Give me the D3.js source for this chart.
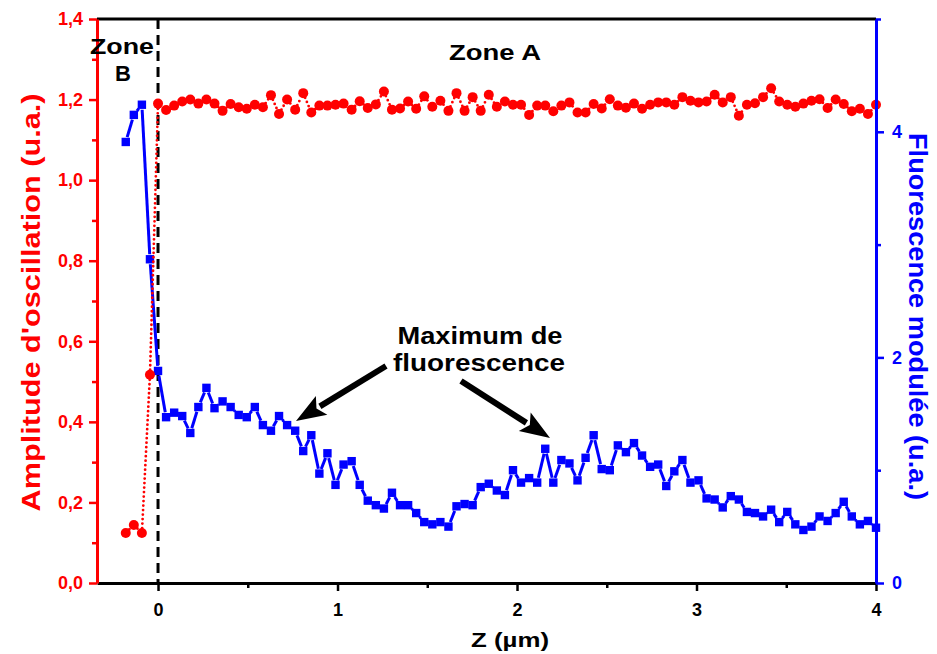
<!DOCTYPE html>
<html>
<head>
<meta charset="utf-8">
<script src="https://cdn.jsdelivr.net/npm/d3@7"></script>
<style>
  html, body { margin: 0; padding: 0; background: #fff; }
  svg { display: block; font-family: "Liberation Sans", Arial, sans-serif; font-weight: bold; }
</style>
</head>
<body>
<svg id="chart" width="937" height="654"></svg>
<script>
// ---- data ----
const zStep = 4 / 89;
const zIndexOffset = 4;
const amplitude = [
  0.124, 0.144, 0.124, 0.517, 1.19,
  1.174, 1.185, 1.195, 1.20, 1.19, 1.20, 1.19, 1.172, 1.189, 1.181, 1.177, 1.187, 1.181, 1.211, 1.164,
  1.20, 1.175, 1.216, 1.168, 1.185, 1.185, 1.187, 1.19, 1.175, 1.196, 1.179, 1.188,
  1.22, 1.175, 1.178, 1.195, 1.177, 1.208, 1.182, 1.197, 1.172, 1.216, 1.172, 1.206, 1.172, 1.212,
  1.182, 1.195, 1.187, 1.187, 1.162, 1.185, 1.185, 1.171, 1.185, 1.193, 1.168, 1.168, 1.189, 1.178,
  1.201, 1.185, 1.180,
  1.19, 1.177, 1.187, 1.193, 1.193, 1.187, 1.206, 1.197, 1.193, 1.195, 1.212, 1.193, 1.206, 1.160,
  1.187, 1.191, 1.206, 1.228, 1.195, 1.187, 1.182, 1.19, 1.197, 1.201, 1.179, 1.20, 1.189, 1.171,
  1.177, 1.164, 1.187
];
const fluorescence = [
  3.91, 4.15, 4.24, 2.87, 1.88,
  1.47, 1.51, 1.48, 1.33, 1.56, 1.73, 1.55, 1.61, 1.56, 1.49, 1.47, 1.56, 1.40, 1.35, 1.48,
  1.40, 1.35, 1.17, 1.31, 0.97, 1.15, 0.87, 1.05, 1.08, 0.87, 0.73, 0.69, 0.66, 0.80, 0.69,
  0.69, 0.62, 0.54, 0.52, 0.54, 0.50, 0.68, 0.70, 0.69, 0.85, 0.88, 0.82, 0.78, 1.00, 0.89,
  0.93, 0.89, 1.19, 0.89, 1.09, 1.06, 0.91, 1.11, 1.31, 1.01, 1.00, 1.22, 1.16, 1.24, 1.13,
  1.03, 1.05, 0.86, 0.99, 1.09, 0.89, 0.91, 0.75, 0.74, 0.67, 0.77, 0.74, 0.63, 0.62, 0.59,
  0.65, 0.54, 0.63, 0.52, 0.47, 0.50, 0.59, 0.55, 0.62, 0.72, 0.59, 0.52, 0.55, 0.49
];
const zValues = amplitude.map((_, i) => (i - zIndexOffset) * zStep);
const xTicks = [0, 1, 2, 3, 4];
const xMinorTicks = [0.5, 1.5, 2.5, 3.5];
const leftTicks = [0, 0.2, 0.4, 0.6, 0.8, 1.0, 1.2, 1.4];
const leftMinorTicks = [0.1, 0.3, 0.5, 0.7, 0.9, 1.1, 1.3];
const rightTicks = [0, 2, 4];
const rightMinorTicks = [1, 3, 5];
const xDomain = [-0.34, 4.0];
const leftDomain = [0, 1.4];
const rightDomain = [0, 5];
const boundaryZ = 0;

// ---- layout ----
const L = 97, R = 876, T = 19, B = 583;
const RED = "#ff0000", BLUE = "#0000ff";
const svg = d3.select("#chart");

const x = d3.scaleLinear().domain(xDomain).range([L, R]);
const yL = d3.scaleLinear().domain(leftDomain).range([B, T]);
const yR = d3.scaleLinear().domain(rightDomain).range([B, T]);

const fmt = d => d.toFixed(1).replace(".", ",");

// top frame
svg.append("line").attr("x1", L).attr("x2", R).attr("y1", T).attr("y2", T)
  .attr("stroke", "#000").attr("stroke-width", 3);

// dashed boundary
svg.append("line").attr("x1", x(boundaryZ)).attr("x2", x(boundaryZ)).attr("y1", T).attr("y2", B)
  .attr("stroke", "#000").attr("stroke-width", 3).attr("stroke-dasharray", "10,6");

// gap-line helper (segments shortened near symbols)
function gapLine(g, pts, gap, color, width, dash) {
  for (let i = 0; i < pts.length - 1; i++) {
    const [x0, y0] = pts[i], [x1, y1] = pts[i + 1];
    const dx = x1 - x0, dy = y1 - y0, len = Math.hypot(dx, dy);
    if (len <= 2 * gap + 0.5) continue;
    const ux = dx / len, uy = dy / len;
    const ln = g.append("line")
      .attr("x1", x0 + ux * gap).attr("y1", y0 + uy * gap)
      .attr("x2", x1 - ux * gap).attr("y2", y1 - uy * gap)
      .attr("stroke", color).attr("stroke-width", width);
    if (dash) ln.attr("stroke-dasharray", dash).attr("stroke-linecap", "round");
  }
}

// fluorescence (blue)
const gB = svg.append("g");
const bluePts = fluorescence.map((v, i) => [x(zValues[i]), yR(v)]);
gapLine(gB, bluePts, 5, BLUE, 3, null);
gB.selectAll("rect").data(fluorescence).join("rect")
  .attr("x", (d, i) => x(zValues[i]) - 4.2).attr("y", d => yR(d) - 4.2)
  .attr("width", 8.4).attr("height", 8.4).attr("fill", BLUE);

// amplitude (red)
const gA = svg.append("g");
const redPts = amplitude.map((v, i) => [x(zValues[i]), yL(v)]);
gapLine(gA, redPts, 5, RED, 2.8, "0,4.5");
gA.selectAll("circle").data(amplitude).join("circle")
  .attr("cx", (d, i) => x(zValues[i])).attr("cy", d => yL(d))
  .attr("r", 5).attr("fill", RED);

// axes
function styleAxis(g, color) {
  g.select(".domain").attr("stroke", color).attr("stroke-width", 3);
  g.selectAll(".tick line").attr("stroke", color).attr("stroke-width", 2.5);
  g.selectAll(".tick text").attr("fill", color).attr("font-size", 18)
    .attr("font-weight", "bold").attr("font-family", "Liberation Sans, Arial, sans-serif");
}

// bottom axis
const gx = svg.append("g").attr("transform", `translate(0,${B})`)
  .call(d3.axisBottom(x).tickValues(xTicks).tickSize(8).tickSizeOuter(0).tickPadding(12).tickFormat(d3.format("d")));
styleAxis(gx, "#000");
const gxm = svg.append("g").attr("transform", `translate(0,${B})`)
  .call(d3.axisBottom(x).tickValues(xMinorTicks).tickSize(5).tickFormat(""));
gxm.select(".domain").remove();
gxm.selectAll(".tick line").attr("stroke", "#000").attr("stroke-width", 2.5);

// left axis
const gl = svg.append("g").attr("transform", `translate(${L},0)`)
  .call(d3.axisLeft(yL).tickValues(leftTicks).tickSize(8).tickSizeOuter(0).tickPadding(6).tickFormat(fmt));
styleAxis(gl, RED);
const glm = svg.append("g").attr("transform", `translate(${L},0)`)
  .call(d3.axisLeft(yL).tickValues(leftMinorTicks).tickSize(5).tickFormat(""));
glm.select(".domain").remove();
glm.selectAll(".tick line").attr("stroke", RED).attr("stroke-width", 2.5);

// right axis
const gr = svg.append("g").attr("transform", `translate(${R},0)`)
  .call(d3.axisRight(yR).tickValues(rightTicks).tickSize(8).tickSizeOuter(0).tickPadding(8).tickFormat(d3.format("d")));
styleAxis(gr, BLUE);
const grm = svg.append("g").attr("transform", `translate(${R},0)`)
  .call(d3.axisRight(yR).tickValues(rightMinorTicks).tickSize(5).tickFormat(""));
grm.select(".domain").remove();
grm.selectAll(".tick line").attr("stroke", BLUE).attr("stroke-width", 2.5);

// axis titles
svg.append("text").attr("x", 510).attr("y", 647).attr("text-anchor", "middle")
  .attr("font-size", 21).attr("fill", "#000").attr("textLength", 78).attr("lengthAdjust", "spacingAndGlyphs")
  .text("Z (µm)");
svg.append("text").attr("transform", `translate(40,${(93 + 512) / 2}) rotate(-90)`)
  .attr("text-anchor", "middle").attr("font-size", 25).attr("fill", RED)
  .attr("textLength", 418).attr("lengthAdjust", "spacingAndGlyphs")
  .text("Amplitude d'oscillation (u.a.)");
svg.append("text").attr("transform", `translate(909,${(133 + 500) / 2}) rotate(90)`)
  .attr("text-anchor", "middle").attr("font-size", 25).attr("fill", BLUE)
  .attr("textLength", 367).attr("lengthAdjust", "spacingAndGlyphs")
  .text("Fluorescence modulée (u.a.)");

// zone labels
svg.append("text").attr("x", 495).attr("y", 60).attr("text-anchor", "middle")
  .attr("font-size", 22).attr("fill", "#000").attr("textLength", 92).attr("lengthAdjust", "spacingAndGlyphs")
  .text("Zone A");
svg.append("text").attr("x", 122).attr("y", 54).attr("text-anchor", "middle")
  .attr("font-size", 22).attr("fill", "#000").attr("textLength", 64).attr("lengthAdjust", "spacingAndGlyphs")
  .text("Zone");
svg.append("text").attr("x", 123).attr("y", 81).attr("text-anchor", "middle")
  .attr("font-size", 22).attr("fill", "#000")
  .text("B");

// annotation
svg.append("text").attr("x", 480).attr("y", 344).attr("text-anchor", "middle")
  .attr("font-size", 23).attr("fill", "#000").attr("textLength", 165).attr("lengthAdjust", "spacingAndGlyphs")
  .text("Maximum de");
svg.append("text").attr("x", 479).attr("y", 371).attr("text-anchor", "middle")
  .attr("font-size", 23).attr("fill", "#000").attr("textLength", 172).attr("lengthAdjust", "spacingAndGlyphs")
  .text("fluorescence");

// arrows
function arrow(x0, y0, x1, y1) {
  const dx = x1 - x0, dy = y1 - y0, len = Math.hypot(dx, dy);
  const ux = dx / len, uy = dy / len, px = -uy, py = ux;
  const hl = 30, hw = 11;
  const bx = x1 - ux * hl, by = y1 - uy * hl;
  svg.append("line").attr("x1", x0).attr("y1", y0).attr("x2", bx + ux * 2).attr("y2", by + uy * 2)
    .attr("stroke", "#000").attr("stroke-width", 6);
  svg.append("path")
    .attr("d", `M${x1},${y1} L${bx + px * hw},${by + py * hw} L${bx + ux * 6},${by + uy * 6} L${bx - px * hw},${by - py * hw} Z`)
    .attr("fill", "#000");
}
arrow(386, 366, 296, 421);
arrow(461, 381, 550, 438);
</script>
</body>
</html>
